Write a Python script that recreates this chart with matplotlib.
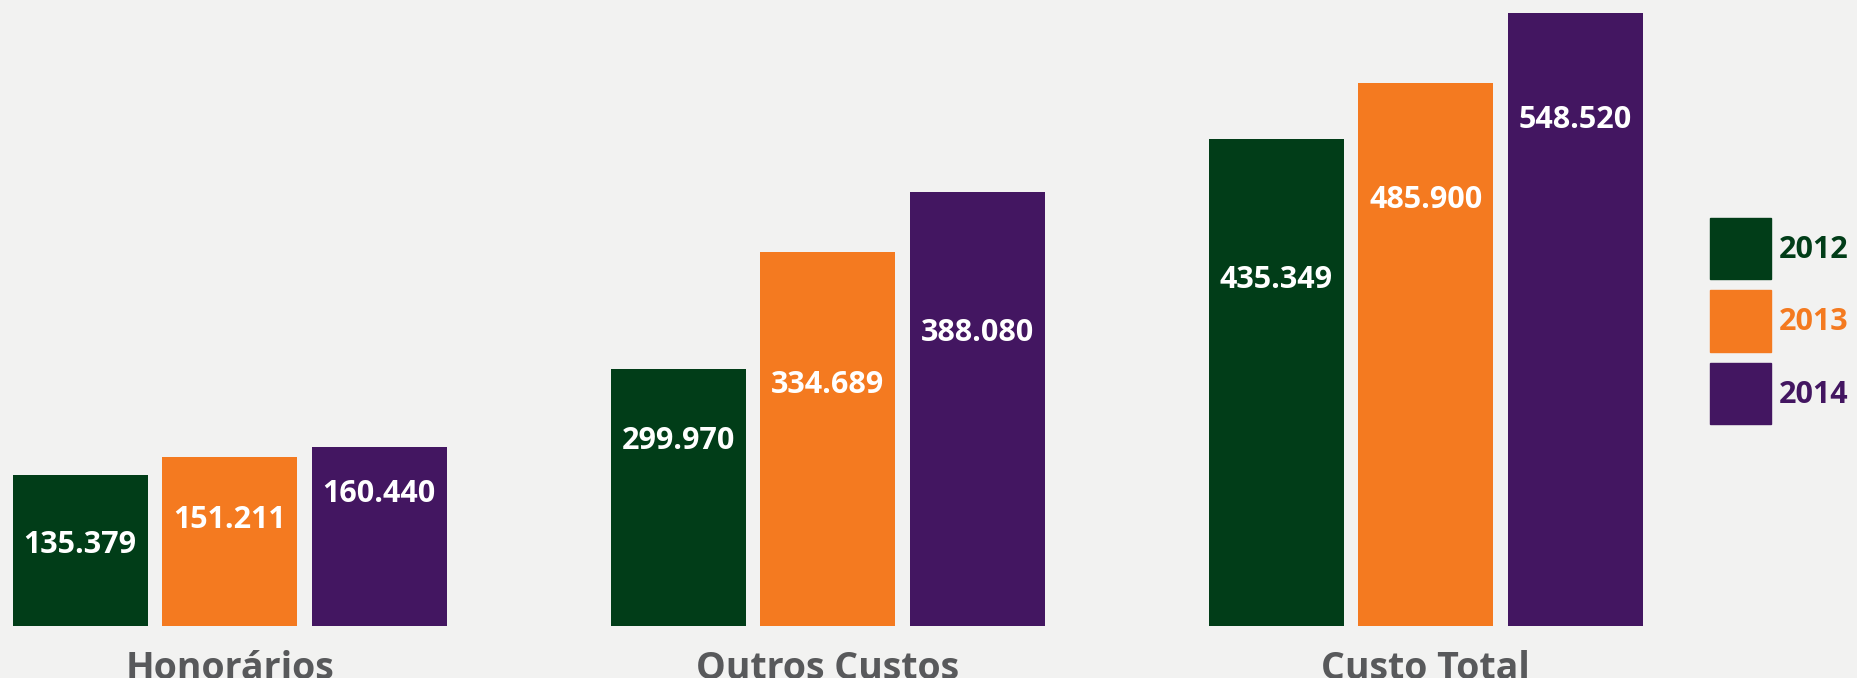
import numpy as np
import matplotlib.pyplot as plt
from matplotlib.patches import Patch

categories = ['Honorários', 'Outros Custos', 'Custo Total']
years = ['2012', '2013', '2014']
# bar heights as drawn in the picture (thousands)
v2012 = [135.379, 230.0, 435.349]
v2013 = [151.211, 334.689, 485.900]
v2014 = [160.440, 388.080, 548.520]
# values printed on the bars
t2012 = ['135.379', '299.970', '435.349']
t2013 = ['151.211', '334.689', '485.900']
t2014 = ['160.440', '388.080', '548.520']

colors = ['#013d18', '#f47a20', '#431661']
bg = '#f2f2f1'

plt.rcParams['font.family'] = ['Open Sans', 'DejaVu Sans']

fig = plt.figure(figsize=(18.58, 6.78), dpi=100, facecolor=bg)
ax = fig.add_axes([0, 0.0767, 1, 0.9233])
ax.set_facecolor(bg)

x = np.arange(len(categories))
width = 0.2257
step = 0.25

# where each value label sits, as a fraction of its bar height
label_frac = [[0.535, 0.72, 0.71],
              [0.625, 0.645, 0.785],
              [0.735, 0.675, 0.825]]

series = zip([v2012, v2013, v2014], [t2012, t2013, t2014], colors)
for i, (vals, texts, c) in enumerate(series):
    xs = x + (i - 1) * step
    ax.bar(xs, vals, width, color=c)
    for j, (xx, v, txt) in enumerate(zip(xs, vals, texts)):
        ax.text(xx, v * label_frac[i][j], txt, ha='center', va='center',
                color='white', fontsize=22, fontweight='bold')

ax.set_xlim(-0.384, 2.723)
ax.set_ylim(0, 560)
ax.set_xticks(x)
ax.set_xticklabels(categories, fontsize=27, fontweight='bold', color='#58595b')
ax.tick_params(axis='x', length=0, pad=17)
ax.set_yticks([])
for s in ax.spines.values():
    s.set_visible(False)

handles = [Patch(color=c, label=y) for c, y in zip(colors, years)]
leg = fig.legend(handles=handles, loc='upper left',
                 bbox_to_anchor=(1710 / 1858, 1 - 218 / 678),
                 frameon=False, borderpad=0, borderaxespad=0,
                 handlelength=2.0, handleheight=2.7, labelspacing=0.37,
                 handletextpad=0.26, prop={'size': 22, 'weight': 'bold'})
for t, c in zip(leg.get_texts(), colors):
    t.set_color(c)

fig.savefig('out.png', dpi=100, facecolor=bg)
